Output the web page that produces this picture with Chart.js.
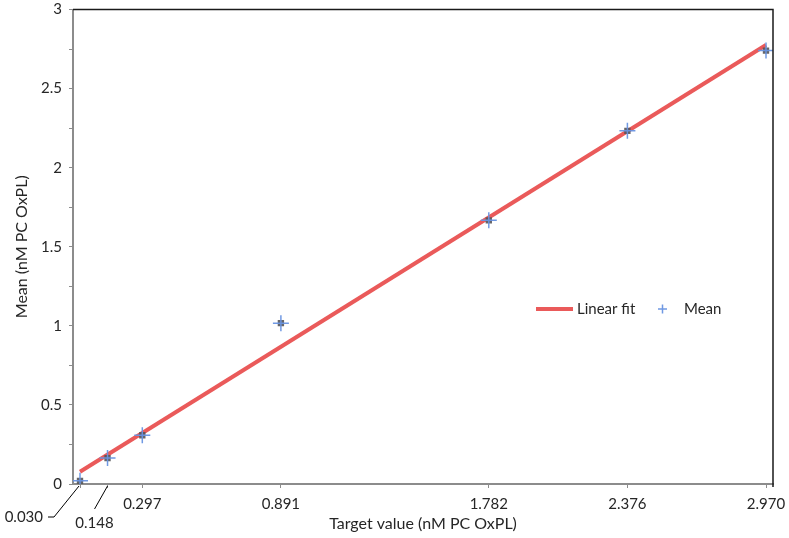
<!DOCTYPE html>
<html lang="en">
<head>
<meta charset="UTF-8">
<title>Mean vs target value</title>
<script src="https://cdn.jsdelivr.net/npm/chart.js"></script>
<style>
    body { margin: 0; background: #fff; }
    #wrap { width: 789px; height: 538px; }
</style>
</head>
<body>
<div id="wrap"><canvas id="chart" width="789" height="538"></canvas></div>
<script>
// target concentrations (x) and the measured means (y)
const targetValues = [0.030, 0.148, 0.297, 0.891, 1.782, 2.376, 2.970];
const meanValues = [0.02, 0.164, 0.308, 1.017, 1.667, 2.233, 2.74];
const xTickLabels = ['0.030', '0.148', '0.297', '0.891', '1.782', '2.376', '2.970'];
const yTickLabels = ['0', '0.5', '1', '1.5', '2', '2.5', '3'];

// linear fit end points
const fitX = [0.030, 2.970];
const fitY = [0.077, 2.776];

const FONT = 'Lato, "Open Sans", sans-serif';
const TEXT = '#262626';
const AXIS = '#8c8c8c';
const RED = '#ea5a5a';
const BLUE = 'rgba(104,148,226,0.95)';

const meanPts = targetValues.map((x, i) => ({ x: x, y: meanValues[i] }));

// black frame on top and right, like the original
const frame = {
    id: 'frame',
    afterDraw(chart) {
        const { ctx, chartArea: a } = chart;
        ctx.save();
        ctx.strokeStyle = '#1a1a1a';
        ctx.lineWidth = 1.5;
        ctx.beginPath();
        ctx.moveTo(a.left, a.top);
        ctx.lineTo(a.right, a.top);
        ctx.lineTo(a.right, a.bottom + 3);
        ctx.stroke();
        ctx.restore();
    }
};

// the two crowded tick labels at the left are moved down with leader lines
const leaderLabels = {
    id: 'leaderLabels',
    afterDraw(chart) {
        const ctx = chart.ctx;
        const sx = chart.scales.x;
        const b = chart.chartArea.bottom;
        ctx.save();
        ctx.strokeStyle = '#000';
        ctx.lineWidth = 1;
        ctx.font = '15px ' + FONT;
        ctx.fillStyle = TEXT;
        ctx.textBaseline = 'middle';

        let px = sx.getPixelForValue(targetValues[0]);
        ctx.beginPath();
        ctx.moveTo(px - 1, b + 2);
        ctx.lineTo(px - 26, b + 33);
        ctx.lineTo(px - 32, b + 33);
        ctx.stroke();
        ctx.textAlign = 'right';
        ctx.fillText(xTickLabels[0], px - 37, b + 33);

        px = sx.getPixelForValue(targetValues[1]);
        ctx.beginPath();
        ctx.moveTo(px, b + 2);
        ctx.lineTo(px - 13, b + 25);
        ctx.stroke();
        ctx.textAlign = 'center';
        ctx.fillText(xTickLabels[1], px - 13, b + 39);
        ctx.restore();
    }
};

// legend sits inside the plot area
const innerLegend = {
    id: 'innerLegend',
    afterDraw(chart) {
        const ctx = chart.ctx;
        const y = 309;
        ctx.save();
        ctx.strokeStyle = RED;
        ctx.lineWidth = 4;
        ctx.beginPath();
        ctx.moveTo(536, y);
        ctx.lineTo(573, y);
        ctx.stroke();

        ctx.strokeStyle = BLUE;
        ctx.lineWidth = 1.5;
        ctx.beginPath();
        ctx.moveTo(658, y);
        ctx.lineTo(667, y);
        ctx.moveTo(662.5, y - 4.5);
        ctx.lineTo(662.5, y + 4.5);
        ctx.stroke();

        ctx.font = '15px ' + FONT;
        ctx.fillStyle = TEXT;
        ctx.textBaseline = 'middle';
        ctx.textAlign = 'left';
        ctx.fillText(chart.data.datasets[0].label, 577, y);
        ctx.fillText(chart.data.datasets[1].label, 684, y);
        ctx.restore();
    }
};

new Chart(document.getElementById('chart'), {
    type: 'scatter',
    data: {
        datasets: [{
            label: 'Linear fit',
            data: fitX.map((x, i) => ({ x: x, y: fitY[i] })),
            showLine: true,
            borderColor: RED,
            borderWidth: 4,
            pointRadius: 0,
            order: 3
        }, {
            label: 'Mean',
            data: meanPts,
            pointStyle: 'rect',
            pointRadius: 4.5,
            backgroundColor: 'rgba(85,85,90,0.9)',
            borderWidth: 0,
            order: 2
        }, {
            label: 'Mean',
            data: meanPts,
            pointStyle: 'cross',
            pointRadius: 8,
            borderColor: BLUE,
            borderWidth: 1.5,
            order: 1
        }]
    },
    options: {
        responsive: false,
        animation: false,
        events: [],
        layout: { padding: { top: 7, right: 16, left: 0, bottom: 0 } },
        plugins: {
            legend: { display: false },
            tooltip: { enabled: false }
        },
        scales: {
            x: {
                type: 'linear',
                min: 0,
                max: 3,
                afterBuildTicks: function(scale) {
                    scale.ticks = targetValues.map(v => ({ value: v }));
                },
                afterFit: function(scale) {
                    scale.height = 54;
                    scale.paddingLeft = 0;
                    scale.paddingRight = 0;
                },
                ticks: {
                    autoSkip: false,
                    maxRotation: 0,
                    padding: 7,
                    color: TEXT,
                    font: { family: FONT, size: 15 },
                    callback: function(value, index) {
                        return index < 2 ? '' : xTickLabels[index];
                    }
                },
                grid: { drawOnChartArea: false, drawTicks: true, tickLength: 4, color: AXIS },
                border: { color: AXIS, width: 2 },
                title: {
                    display: true,
                    text: 'Target value (nM PC OxPL)',
                    color: TEXT,
                    font: { family: FONT, size: 16 },
                    padding: { top: 0, bottom: 5 }
                }
            },
            y: {
                min: 0,
                max: 3,
                afterFit: function(scale) {
                    scale.width = 73;
                    scale.paddingTop = 0;
                    scale.paddingBottom = 0;
                },
                ticks: {
                    stepSize: 0.25,
                    padding: 7,
                    color: TEXT,
                    font: { family: FONT, size: 15 },
                    callback: function(value) {
                        const k = Math.round(value * 4);
                        return k % 2 === 0 ? yTickLabels[k / 2] : '';
                    }
                },
                grid: { drawOnChartArea: false, drawTicks: true, tickLength: 4, color: AXIS },
                border: { color: AXIS, width: 2 },
                title: {
                    display: true,
                    text: 'Mean (nM PC OxPL)',
                    color: TEXT,
                    font: { family: FONT, size: 16 },
                    padding: { top: 12, bottom: 0 }
                }
            }
        }
    },
    plugins: [frame, leaderLabels, innerLegend]
});
</script>
</body>
</html>
